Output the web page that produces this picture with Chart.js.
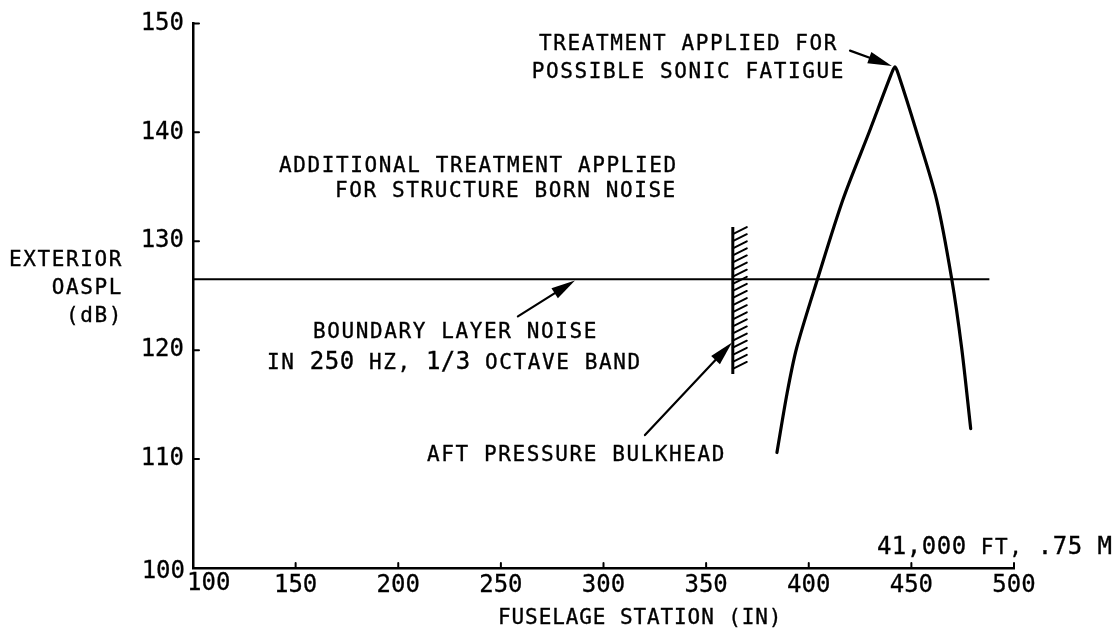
<!DOCTYPE html>
<html>
<head>
<meta charset="utf-8">
<script src="https://cdn.jsdelivr.net/npm/chart.js@4/dist/chart.umd.min.js"></script>
<style>
  html, body { margin: 0; padding: 0; background: #fff; }
  #wrap { width: 1114px; height: 631px; }
</style>
</head>
<body>
<div id="wrap"><canvas id="oaspl" width="1114" height="631"></canvas></div>
<script>
// axes: fuselage station (in) vs exterior OASPL (dB)
const xTicks = [100, 150, 200, 250, 300, 350, 400, 450, 500];
const yTicks = [100, 110, 120, 130, 140, 150];

// boundary layer noise, 250 Hz 1/3 octave band
const boundaryX = [100, 488];
const boundaryY = [126.5, 126.5];

// engine noise along the aft fuselage
const jetX = [384.5, 389.4, 394.1, 404.4, 416.8, 429.6, 440.1, 442, 443.7, 452.6, 462.3, 469.6, 474.5, 478.9];
const jetY = [110.6, 116.0, 120.2, 126.6, 133.9, 140.1, 145.3, 146, 145.3, 140.0, 133.8, 126.6, 120.2, 112.8];

// aft pressure bulkhead
const bulkheadX = [363, 363];
const bulkheadY = [117.8, 131.3];

const toPoints = (xs, ys) => xs.map((x, i) => ({ x: x, y: ys[i] }));

const SMALL = '21px "DejaVu Sans Mono", monospace';
const BIG = '24px "DejaVu Sans Mono", monospace';

// text blocks placed in data units; each part is [text, useBigFont]
const notes = [
  { x: 414.3, y: 147.6, align: 'right', parts: [['TREATMENT APPLIED FOR', false]] },
  { x: 417.7, y: 145.0, align: 'right', parts: [['POSSIBLE SONIC FATIGUE', false]] },
  { x: 141.9, y: 136.4, align: 'left', parts: [['ADDITIONAL TREATMENT APPLIED', false]] },
  { x: 169.2, y: 134.05, align: 'left', parts: [['FOR STRUCTURE BORN NOISE', false]] },
  { x: 158.5, y: 121.1, align: 'left', parts: [['BOUNDARY LAYER NOISE', false]] },
  { x: 136.1, y: 118.3, align: 'left', parts: [['IN ', false], ['250', true], [' HZ, ', false], ['1/3', true], [' OCTAVE BAND', false]] },
  { x: 214.0, y: 109.8, align: 'left', parts: [['AFT PRESSURE BULKHEAD', false]] },
  { x: 433.2, y: 101.3, align: 'left', parts: [['41,000', true], [' FT, ', false], ['.75 M', true]] }
];

// arrows: tail -> tip, in data units
const arrows = [
  { from: [420.1, 147.5], to: [440.5, 146.1] },
  { from: [258.3, 123.1], to: [286.1, 126.4] },
  { from: [320.2, 112.2], to: [362.6, 120.7] }
];

const yTitle = ['EXTERIOR', 'OASPL', '(dB)'];
const yTitleAt = [128.4, 125.8, 123.3];
const xTitle = 'FUSELAGE STATION (IN)';
const xTitleStart = 248.6;

function drawParts(ctx, parts, x, y, align, gap) {
  const spacing = big => (big ? '0.5px' : (gap || '1.6px'));
  let total = 0;
  const widths = parts.map(([t, big]) => {
    ctx.font = big ? BIG : SMALL;
    ctx.letterSpacing = spacing(big);
    const w = ctx.measureText(t).width;
    total += w;
    return w;
  });
  let cx = align === 'right' ? x - total : align === 'center' ? x - total / 2 : x;
  ctx.textAlign = 'left';
  ctx.textBaseline = 'alphabetic';
  ctx.lineWidth = 0.35;
  parts.forEach(([t, big], i) => {
    ctx.font = big ? BIG : SMALL;
    ctx.letterSpacing = spacing(big);
    ctx.fillText(t, cx, y);
    ctx.strokeText(t, cx, y);
    cx += widths[i];
  });
  ctx.letterSpacing = '0px';
}

function drawArrow(ctx, x0, y0, x1, y1) {
  const a = Math.atan2(y1 - y0, x1 - x0);
  const len = 24, half = 6;
  ctx.beginPath();
  ctx.moveTo(x0, y0);
  ctx.lineTo(x1 - Math.cos(a) * (len - 4), y1 - Math.sin(a) * (len - 4));
  ctx.stroke();
  ctx.beginPath();
  ctx.moveTo(x1, y1);
  ctx.lineTo(x1 - Math.cos(a) * len - Math.sin(a) * half, y1 - Math.sin(a) * len + Math.cos(a) * half);
  ctx.lineTo(x1 - Math.cos(a) * len + Math.sin(a) * half, y1 - Math.sin(a) * len - Math.cos(a) * half);
  ctx.closePath();
  ctx.fill();
}

const tickFont = { family: '"DejaVu Sans Mono", monospace', size: 24 };
const hideFirst = v => (v === 100 ? '' : v);

const extras = {
  id: 'extras',
  afterDraw(chart) {
    const ctx = chart.ctx;
    const xs = chart.scales.x, ys = chart.scales.y;
    const area = chart.chartArea;
    ctx.save();
    ctx.strokeStyle = '#000';
    ctx.fillStyle = '#000';
    ctx.lineCap = 'round';

    // inward tick marks
    ctx.lineWidth = 2;
    ctx.beginPath();
    xTicks.forEach(v => {
      const px = xs.getPixelForValue(v);
      ctx.moveTo(px, area.bottom);
      ctx.lineTo(px, area.bottom - 5);
    });
    yTicks.forEach(v => {
      const py = ys.getPixelForValue(v);
      ctx.moveTo(area.left, py);
      ctx.lineTo(area.left + 6, py);
    });
    ctx.stroke();

    // shared corner labels, nudged apart
    ctx.font = tickFont.size + 'px ' + tickFont.family;
    ctx.lineWidth = 0.3;
    ctx.textBaseline = 'middle';
    ctx.textAlign = 'right';
    ctx.fillText(String(yTicks[0]), area.left - 8, area.bottom + 4);
    ctx.strokeText(String(yTicks[0]), area.left - 8, area.bottom + 4);
    ctx.textAlign = 'left';
    ctx.fillText(String(xTicks[0]), area.left - 6, area.bottom + 16);
    ctx.strokeText(String(xTicks[0]), area.left - 6, area.bottom + 16);

    // bulkhead hatching
    const bx = xs.getPixelForValue(bulkheadX[0]);
    const bTop = ys.getPixelForValue(bulkheadY[1]);
    const bBot = ys.getPixelForValue(bulkheadY[0]);
    ctx.lineWidth = 2;
    ctx.beginPath();
    for (let py = bTop + 7; py <= bBot + 0.5; py += 7.1) {
      ctx.moveTo(bx, py);
      ctx.lineTo(bx + 14, py - 7);
    }
    ctx.stroke();

    // arrows
    ctx.lineWidth = 2.2;
    arrows.forEach(a => {
      drawArrow(ctx,
        xs.getPixelForValue(a.from[0]), ys.getPixelForValue(a.from[1]),
        xs.getPixelForValue(a.to[0]), ys.getPixelForValue(a.to[1]));
    });

    // notes
    notes.forEach(n => {
      drawParts(ctx, n.parts, xs.getPixelForValue(n.x), ys.getPixelForValue(n.y), n.align);
    });

    // axis titles
    yTitle.forEach((t, i) => {
      drawParts(ctx, [[t, false]], area.left - 70, ys.getPixelForValue(yTitleAt[i]) + 7.5, 'right');
    });
    drawParts(ctx, [[xTitle, false]], xs.getPixelForValue(xTitleStart), area.bottom + 56, 'left', '0.9px');

    ctx.restore();
  }
};

new Chart(document.getElementById('oaspl'), {
  type: 'scatter',
  data: {
    datasets: [
      {
        data: toPoints(boundaryX, boundaryY),
        showLine: true,
        borderColor: '#000',
        borderWidth: 2,
        pointRadius: 0
      },
      {
        data: toPoints(jetX, jetY),
        showLine: true,
        borderColor: '#000',
        borderWidth: 3.2,
        pointRadius: 0,
        tension: 0.3,
        borderCapStyle: 'round',
        borderJoinStyle: 'round'
      },
      {
        data: toPoints(bulkheadX, bulkheadY),
        showLine: true,
        borderColor: '#000',
        borderWidth: 3,
        pointRadius: 0
      }
    ]
  },
  options: {
    responsive: false,
    animation: false,
    events: [],
    layout: { padding: { top: 21, right: 100, bottom: 0, left: 0 } },
    plugins: {
      legend: { display: false },
      tooltip: { enabled: false }
    },
    scales: {
      x: {
        type: 'linear',
        min: 100,
        max: 500,
        afterFit: s => { s.height = 63; },
        afterBuildTicks: s => { s.ticks = xTicks.map(v => ({ value: v })); },
        grid: { display: false, drawTicks: false },
        border: { display: true, color: '#000', width: 2.5 },
        ticks: {
          color: '#000',
          padding: 3,
          maxRotation: 0,
          textStrokeColor: '#000',
          textStrokeWidth: 0.3,
          font: tickFont,
          callback: hideFirst
        }
      },
      y: {
        type: 'linear',
        min: 100,
        max: 150,
        afterFit: s => { s.width = 193; },
        afterBuildTicks: s => { s.ticks = yTicks.map(v => ({ value: v })); },
        grid: { display: false, drawTicks: false },
        border: { display: true, color: '#000', width: 2.5 },
        ticks: {
          color: '#000',
          padding: 9,
          textStrokeColor: '#000',
          textStrokeWidth: 0.3,
          font: tickFont,
          callback: hideFirst
        }
      }
    }
  },
  plugins: [extras]
});
</script>
</body>
</html>
